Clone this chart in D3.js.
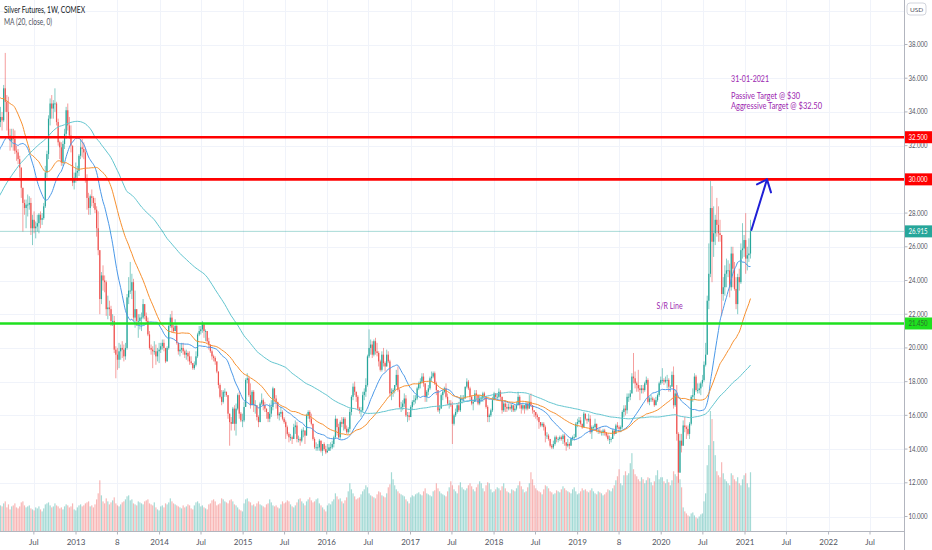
<!DOCTYPE html>
<html>
<head>
<meta charset="utf-8">
<title>Silver Futures, 1W, COMEX</title>
<script src="https://d3js.org/d3.v7.min.js"></script>
<style>
  body { margin: 0; background: #fff; }
  text { font-family: "Lato", "Liberation Sans", sans-serif; }
</style>
</head>
<body>
<div id="chart"></div>
<script>
// weekly closes before the visible window, from 2010-03-01 (only used for the moving averages)
var histCloses = [
  16.8,17.0,16.9,17.3,17.9, 18.0,18.2,18.1,18.6, 18.3,19.1,17.9,18.2,18.0, 18.3,18.8,18.3,17.6, 18.0,17.6,18.2,17.7, 18.2,18.1,18.5,19.2,19.9, 20.0,20.8,21.7,22.2, 22.8,24.3,23.6,24.6, 26.7,25.8,26.5,26.9,28.6, 29.1,28.8,29.8,30.9,
  28.9,28.8,27.5,27.8,29.3, 29.8,32.4,33.1,35.3, 35.6,35.2,37.3,37.7, 39.8,42.7,46.4,47.4, 36.5,35.3,34.8,38.3,36.2, 35.8,35.3,35.1,34.5, 36.6,39.2,39.3,40.1, 38.5,39.3,42.9,41.5,42.0, 41.2,39.9,30.1,30.3, 31.3,31.5,31.2,35.0,33.9, 34.8,33.9,32.0,33.0, 32.1,29.3,28.9,28.2,
  29.4,29.9,32.0,33.6,33.4
];

// visible weekly bars, first week 2012-02-06 (open = previous close)
var closes = [
  33.7,33.5,35.4,34.6, 34.0,32.6,32.3,32.5, 32.4,31.7,31.6,31.2,30.7, 29.5,28.6,28.3,28.5, 28.5,28.6,27.1,27.6, 27.1,27.2,27.4,27.9,27.6, 27.7,28.4,30.4,31.5, 33.6,34.5,34.2,34.5, 34.5,33.4,32.2,31.9,31.0, 32.1,32.7,34.1,33.2, 32.6,32.0,29.8,30.1,30.4,
  30.5,31.4,31.9,31.8, 31.6,30.0,28.9,28.3, 29.0,28.9,28.6,28.2, 27.1,25.8,22.9,24.3,24.0, 23.9,22.3,22.4,22.3, 21.6,21.6,19.9,19.6, 19.3,19.8,20.0,19.9,19.5, 20.0,23.0,23.4,23.4, 23.9,21.8,22.3,21.6,21.6, 21.8,21.8,22.6,21.9, 21.6,20.8,20.0,19.9, 19.8,19.8,19.5,19.8,19.9,
  20.1,20.3,20.0,19.2, 20.0,21.3,21.8,21.2, 21.0,21.3,20.3,19.8,19.9, 20.0,19.8,19.6,19.7, 19.5,19.2,19.1,18.8, 19.0,19.5,20.8,21.0,21.1, 21.4,21.0,21.0,20.4, 20.2,19.8,19.5,19.4, 19.2,18.6,17.8,17.1,16.8, 17.4,17.4,17.2,16.1, 15.6,15.5,16.4,15.5, 16.4,17.2,16.1,15.7,15.7,
  16.5,18.1,18.2,17.2, 16.6,17.4,16.6,16.6, 15.9,15.6,16.7,16.9,16.6, 16.4,16.2,15.8,16.1, 16.5,17.6,17.0,16.8, 16.0,16.1,16.2,15.8,15.6, 15.3,14.9,14.7,14.7, 14.6,15.3,15.4,14.6,14.6, 14.5,15.1,15.1,14.8, 16.0,16.2,15.8,15.5, 14.6,14.1,14.1,14.1,14.5, 13.9,14.3,14.0,13.8,
  13.9,14.1,14.1,14.3, 14.7,15.8,15.3,14.7,15.6, 15.5,15.8,15.2,15.0, 15.2,16.2,17.1,17.7, 17.4,17.1,16.4,16.3,16.3, 17.2,17.4,17.8,19.5, 20.0,20.2,19.6,20.4, 19.8,19.7,19.2,18.7,19.6, 19.1,18.9,19.6,19.2, 17.3,17.4,17.5,17.8,18.4, 17.5,16.5,16.5,16.7, 17.0,16.0,16.0,15.9,
  16.5,16.8,16.9,17.0,17.6, 17.9,18.0,18.3,17.9, 17.1,17.4,17.6,18.2, 18.3,18.5,17.9,17.5, 16.3,16.4,17.2,17.4,17.6, 17.1,16.7,16.7,16.6, 15.5,16.0,16.2,16.6,16.3, 17.0,17.0,17.0,17.7, 18.0,17.6,17.1,16.7, 16.8,17.3,17.2,16.7,17.0, 17.0,17.3,17.1,16.5, 15.9,16.0,16.3,16.9,
  17.3,17.1,17.1,17.4,17.1, 16.3,16.7,16.5,16.4, 16.5,16.4,16.6,16.3, 16.4,16.6,17.1,16.6,16.4, 16.6,16.4,16.7,16.4, 16.8,16.6,16.3,16.2, 16.0,15.9,15.6,15.4,15.5, 15.3,14.8,14.8,14.6, 14.2,14.1,14.3,14.7, 14.6,14.6,14.7,14.6,14.8, 14.4,14.2,14.3,14.2, 14.6,14.7,14.7,15.5,15.6,
  15.7,15.5,15.3,16.1, 15.8,15.7,15.8,15.0, 15.3,15.3,15.5,15.1, 15.1,15.0,15.0,15.1,15.0, 14.8,14.6,14.6,14.6, 15.1,14.9,15.4,15.3, 15.2,15.3,16.2,16.4,16.3, 17.1,17.1,17.3,18.3, 18.2,17.9,17.8,17.6,17.5, 17.6,17.5,17.9,18.1, 16.8,17.0,17.0,16.9, 16.6,16.9,17.2,17.9,18.1,
  18.1,18.0,18.1,18.1, 17.7,17.7,18.4,16.6, 17.3,14.9,12.6,14.5,14.2, 15.4,15.3,15.2,14.9, 15.5,17.1,17.2,18.3, 17.5,17.5,17.6,17.9,18.1, 19.0,19.6,22.8,24.4, 28.3,26.3,26.8,27.6,27.3, 26.8,26.7,23.2,23.6, 24.4,24.6,24.6,23.6, 25.6,24.7,23.5,22.6,24.2, 23.9,25.8,25.9,26.4,
  25.3,25.5,25.6,26.915
];
var highs = [
  34.3,34.0,35.6,37.5, 35.0,34.9,33.0,33.0, 33.0,32.9,32.0,31.8,31.4, 30.3,29.4,28.8,28.8, 29.1,29.0,28.9,27.9, 28.1,27.5,27.9,28.0,28.1, 28.0,28.6,30.8,31.7, 33.8,34.8,35.0,34.7, 35.4,34.6,33.6,32.3,32.2, 32.3,33.0,34.3,34.5, 33.7,33.2,32.0,30.4,31.0,
  30.8,31.5,32.4,32.4, 32.2,31.8,30.3,29.2, 29.1,29.4,29.0,28.9, 28.4,28.1,25.6,24.5,24.9, 24.3,24.0,23.1,22.8, 22.5,22.0,21.9,20.1, 20.0,20.3,20.2,20.4,20.2, 20.3,23.2,24.2,25.1, 24.4,24.1,23.4,22.3,22.0, 22.0,22.1,22.9,22.6, 22.1,21.8,21.0,20.2, 20.1,20.4,20.2,20.0,20.3,
  20.3,20.5,20.5,19.9, 20.1,21.4,22.0,22.2, 21.4,21.7,21.4,20.3,20.2, 20.3,20.3,19.9,19.9, 19.8,19.8,19.5,19.1, 19.2,19.8,20.9,21.3,21.3, 21.6,21.5,21.1,20.9, 20.6,20.2,19.9,19.6, 19.5,19.2,18.6,17.9,17.5, 17.5,17.6,17.4,17.2, 16.1,15.9,16.5,16.6, 16.7,17.3,17.4,16.2,16.1,
  16.8,18.2,18.5,18.3, 17.9,17.5,17.5,16.9, 16.6,16.0,16.8,17.3,17.0, 16.8,16.4,16.2,16.7, 16.9,17.7,17.6,17.2, 16.8,16.2,16.5,16.3,15.9, 15.7,15.4,15.0,14.9, 14.8,15.5,15.7,15.6,14.8, 14.7,15.2,15.3,15.0, 16.1,16.3,16.3,16.1, 15.5,14.7,14.4,14.3,14.6, 14.4,14.3,14.4,14.2,
  14.3,14.3,14.4,14.5, 14.8,16.0,15.8,15.5,15.7, 15.9,15.9,15.9,15.4, 15.3,16.4,17.2,17.9, 18.0,17.4,17.2,16.5,16.5, 17.4,17.6,18.2,19.6, 21.1,20.5,20.4,20.5, 20.6,20.3,19.8,19.3,19.8, 20.0,19.2,19.9,19.8, 19.3,17.6,17.6,17.8,18.7, 18.9,17.6,16.8,16.9, 17.3,17.2,16.2,16.2,
  16.6,16.9,17.2,17.2,17.7, 18.0,18.2,18.5,18.5, 17.9,17.5,17.8,18.3, 18.6,18.6,18.6,18.0, 17.5,16.6,17.3,17.5,17.7, 17.9,17.3,16.9,16.9, 16.8,16.1,16.4,16.7,16.8, 17.2,17.2,17.2,17.7, 18.2,18.1,17.7,17.2, 16.9,17.5,17.5,17.1,17.2, 17.2,17.4,17.4,17.1, 16.6,16.1,16.4,17.1,
  17.4,17.3,17.3,17.6,17.5, 17.1,16.8,16.9,16.7, 16.7,16.7,16.7,16.6, 16.6,16.8,17.4,17.2,16.7, 16.7,16.6,16.8,16.8, 17.2,17.3,16.6,16.3, 16.2,16.1,15.9,15.6,15.6, 15.6,15.4,15.0,14.9, 14.6,14.3,14.5,14.8, 14.8,14.7,14.8,14.8,14.9, 14.9,14.4,14.6,14.4, 14.7,14.8,14.9,15.6,15.8,
  15.9,15.9,15.5,16.2, 16.1,15.8,16.1,16.0, 15.4,15.4,15.8,15.5, 15.2,15.3,15.1,15.2,15.2, 15.0,14.9,14.8,14.7, 15.2,15.1,15.5,15.6, 15.4,15.4,16.3,16.6,16.6, 17.3,17.3,17.5,18.5, 19.7,18.6,18.0,18.7,17.8, 17.8,17.8,18.0,18.3, 18.2,17.1,17.2,17.1, 17.0,17.1,17.3,18.0,18.3,
  18.8,18.2,18.3,18.4, 18.2,17.8,18.6,18.9, 17.5,17.8,15.0,14.9,14.9, 15.7,15.9,15.4,15.4, 15.6,17.2,17.6,18.5, 18.4,17.9,17.9,18.0,18.4, 19.2,20.3,23.1,26.2, 29.9,29.6,28.4,27.9,28.9, 28.4,27.6,26.6,24.2, 24.9,25.3,25.2,25.0, 26.0,26.0,25.1,24.2,24.4, 24.7,26.2,27.4,26.7,
  28.0,26.0,26.5,27.6
];
var lows = [
  33.1,32.9,33.4,34.0, 32.9,32.4,31.7,31.9, 31.7,31.5,31.1,30.9,30.1, 28.9,26.9,27.9,27.1, 27.8,28.2,26.7,26.1, 26.8,26.5,26.9,26.8,27.1, 27.3,27.6,28.3,30.1, 31.2,33.2,33.6,33.6, 34.0,33.2,32.0,31.2,30.8, 30.8,31.8,32.4,32.9, 32.4,31.6,29.6,29.4,29.8,
  29.9,30.2,31.2,31.3, 31.2,29.8,28.2,27.9, 27.9,28.4,28.3,28.0, 26.6,25.5,22.0,22.6,23.4, 23.3,21.9,21.7,21.9, 21.3,21.3,19.7,18.2, 18.7,18.8,19.3,19.4,19.2, 19.3,19.9,22.6,23.2, 22.9,21.6,21.2,21.3,20.6, 21.1,21.0,21.7,21.7, 21.4,20.7,19.9,19.6, 18.8,19.6,19.0,19.2,19.1,
  19.7,19.9,19.8,19.1, 19.2,19.9,21.2,20.9, 20.9,21.0,20.2,19.6,19.5, 19.7,19.6,19.4,19.3, 19.2,19.0,19.0,18.7, 18.7,18.9,19.4,20.7,20.8, 20.9,20.6,20.4,20.3, 19.9,19.7,19.3,19.2, 19.0,18.5,17.6,17.0,16.6, 16.7,17.1,17.1,15.8, 14.2,15.1,15.5,15.1, 14.8,16.3,15.8,15.6,15.3,
  15.6,16.5,17.9,17.1, 16.4,16.6,16.2,16.1, 15.7,15.3,15.6,16.6,16.3, 16.2,15.8,15.6,15.6, 15.9,16.3,16.8,16.4, 15.8,15.7,15.9,15.7,15.5, 14.6,14.8,14.4,14.5, 14.3,14.6,14.9,14.4,14.4, 14.2,14.4,14.7,14.3, 14.9,15.8,15.6,15.4, 14.5,14.0,13.9,13.9,13.9, 13.8,13.6,13.9,13.7,
  13.8,13.9,13.9,14.0, 14.1,14.6,14.8,14.6,14.6, 15.3,15.1,15.1,14.9, 14.9,15.0,16.0,16.9, 17.2,16.8,16.3,16.1,15.9, 16.2,16.9,17.1,17.7, 19.4,19.6,19.4,19.5, 19.6,19.5,18.9,18.6,18.6, 18.9,18.6,18.9,19.1, 17.1,16.9,17.1,17.3,17.7, 17.4,16.4,16.2,16.3, 16.5,15.9,15.6,15.7,
  15.9,16.3,16.6,16.7,16.9, 17.5,17.6,17.9,17.7, 16.8,16.8,17.2,17.5, 18.0,18.2,17.8,17.2, 16.2,16.1,16.4,16.9,17.3, 17.0,16.6,16.4,16.5, 14.3,15.4,15.9,16.1,16.2, 16.2,16.7,16.8,17.0, 17.6,17.5,16.9,16.6, 16.3,16.8,16.9,16.6,16.6, 16.8,16.8,16.9,16.4, 15.6,15.6,15.9,16.2,
  16.9,16.9,16.9,17.0,16.9, 16.1,16.2,16.2,16.2, 16.3,16.3,16.2,16.2, 16.2,16.3,16.6,16.4,16.1, 16.3,16.1,16.3,16.3, 16.4,16.5,16.1,15.9, 15.8,15.7,15.2,15.3,15.3, 15.1,14.4,14.6,14.5, 14.1,14.0,14.0,14.2, 14.4,14.4,14.5,14.5,14.3, 14.2,13.9,14.1,14.0, 14.2,14.5,14.5,14.7,15.3,
  15.5,15.4,15.2,15.3, 15.7,15.5,15.6,14.9, 14.6,15.1,15.2,15.0, 14.9,14.9,14.8,14.8,14.8, 14.7,14.5,14.3,14.4, 14.6,14.8,14.9,15.2, 15.0,15.0,15.2,15.9,16.0, 16.1,16.8,16.9,17.3, 17.9,17.6,17.4,17.4,16.9, 17.3,17.3,17.4,17.8, 16.7,16.6,16.8,16.8, 16.5,16.6,16.8,17.1,17.8,
  17.9,17.8,17.9,17.6, 17.4,17.4,17.7,16.4, 16.5,14.5,12.0,12.6,13.8, 14.2,15.0,14.6,14.8, 14.6,15.4,16.8,16.9, 17.4,17.3,17.3,17.2,17.7, 18.0,18.9,19.8,22.3, 24.2,23.9,25.4,26.1,26.6, 26.3,26.3,21.9,22.8, 23.1,23.6,24.2,23.0, 23.4,23.6,23.4,22.3,22.0, 23.4,23.8,25.3,25.4,
  24.4,24.6,25.1,25.3
];
// weekly volume, thousand contracts
var volumes = [
  130,125,140,150,120,135,110,125,130,140,120,115,125,145,150,130,120,125,130,115,110,105,120,115,125,110,100,115,135,140,145,130,120,125,140,130,125,115,120,110,125,135,130,120,125,140,110,105,
  120,130,135,125,130,140,145,150,125,130,120,135,160,190,255,180,150,140,165,150,135,145,155,170,140,130,125,135,145,150,160,175,180,155,160,140,135,130,150,145,140,135,150,155,160,140,135,130,145,120,110,105,
  125,130,120,140,135,145,165,150,140,135,130,125,120,115,130,120,125,135,130,115,110,130,145,150,140,125,130,120,115,110,135,140,155,160,150,130,135,140,165,160,150,145,140,155,160,150,135,130,120,110,105,100,
  140,160,165,150,145,130,135,125,140,150,135,130,125,120,135,140,160,145,130,125,130,120,115,135,150,140,145,155,150,135,125,120,130,145,160,165,150,140,130,150,160,170,155,145,150,160,165,140,130,120,110,100,
  130,140,135,150,160,190,175,160,165,150,140,155,170,200,240,210,190,175,160,165,170,185,200,210,230,220,190,180,175,170,165,185,200,195,180,175,170,190,220,235,295,260,230,210,200,190,185,180,175,160,150,140,
  170,180,175,185,190,195,185,180,200,215,190,185,180,175,200,205,240,215,200,190,185,180,175,200,220,250,230,210,200,190,230,245,220,210,205,215,230,240,225,210,200,220,235,250,240,215,200,230,245,240,210,195,
  200,210,220,215,205,225,240,215,200,195,190,210,205,200,215,230,250,225,210,195,200,220,240,295,260,230,215,205,200,195,185,210,230,225,215,200,195,185,190,205,200,195,210,225,215,205,200,195,190,210,220,200,185,
  190,200,215,205,210,200,195,205,215,200,190,185,200,195,190,180,185,195,210,205,200,215,230,255,275,310,240,230,280,300,280,290,340,390,310,285,275,260,250,270,260,240,255,270,265,245,230,250,280,305,260,270,
  270,250,240,260,245,230,255,300,285,275,290,260,220,120,100,90,80,75,90,95,80,70,65,75,85,90,150,190,330,430,600,560,450,380,300,280,270,345,290,260,250,240,230,290,280,260,250,270,240,230,260,280,
  290,240,220,295
];

var histStartUtc = Date.UTC(2010, 2, 1);
var maPeriods = [20, 40, 100];
var priceTicks = d3.range(10, 40, 2);
var levelPrices = [32.5, 30.0];
var supportPrice = 21.45;
var timeTicks = ["2012-07-01","2013-01-01","2013-07-01","2014-01-01","2014-07-01","2015-01-01","2015-07-01",
  "2016-01-01","2016-07-01","2017-01-01","2017-07-01","2018-01-01","2018-07-01","2019-01-01","2019-07-01",
  "2020-01-01","2020-07-01","2021-01-01","2021-07-01","2022-01-01","2022-07-01"];
var timeLabels = ["Jul","2013","8","2014","Jul","2015","Jul","2016","Jul","2017","Jul","2018","Jul","2019","8",
  "2020","Jul","2021","Jul","2022","Jul"];
var noteLines = ["31-01-2021", "Passive Target @ $30", "Aggressive Target @ $32.50"];
var srText = "S/R Line";

var W = 932, H = 550, plotR = 904.5, plotB = 531.5;
var upC = "#26a69a", dnC = "#ef5350";

var svg = d3.select("#chart").append("svg").attr("width", W).attr("height", H)
  .style("background", "#fff");

var x = d3.scaleUtc().domain([Date.UTC(2013,0,1), Date.UTC(2021,0,1)]).range([76, 745]);
var y = d3.scaleLinear().domain([10, 38]).range([516.5, 44.5]);
var yv = d3.scaleLinear().domain([0, 600]).range([plotB, 411]);

function weekDate(i) { return new Date(histStartUtc + i * 7 * 864e5); }

var all = histCloses.concat(closes);
var h0 = histCloses.length;
var bars = closes.map(function(c, k) {
  var o = all[h0 + k - 1];
  return { date: weekDate(h0 + k), o: o, c: c,
           h: Math.max(highs[k], o, c), l: Math.min(lows[k], o, c), v: volumes[k] };
});

svg.append("defs").append("clipPath").attr("id", "plot")
  .append("rect").attr("x", 0).attr("y", 0).attr("width", plotR).attr("height", plotB);

// grid
svg.append("g").selectAll("line").data(d3.range(10, 42, 2)).join("line")
  .attr("x1", 0).attr("x2", plotR).attr("y1", function(d){ return Math.round(y(d)) + 0.5; })
  .attr("y2", function(d){ return Math.round(y(d)) + 0.5; })
  .attr("stroke", "#f0f3fa");
svg.append("g").selectAll("line").data(timeTicks).join("line")
  .attr("x1", function(d){ return Math.round(x(new Date(d))) + 0.5; })
  .attr("x2", function(d){ return Math.round(x(new Date(d))) + 0.5; })
  .attr("y1", 0).attr("y2", plotB).attr("stroke", "#f0f3fa");

var plot = svg.append("g").attr("clip-path", "url(#plot)");

// volume
plot.append("g").selectAll("rect").data(bars).join("rect")
  .attr("x", function(d){ return x(d.date) - 0.6; })
  .attr("width", 1.2)
  .attr("y", function(d){ return yv(d.v); })
  .attr("height", function(d){ return plotB - yv(d.v); })
  .attr("fill", function(d){ return d.c >= d.o ? upC : dnC; })
  .attr("opacity", 0.42);

// candles
var cg = plot.append("g");
cg.selectAll("line").data(bars).join("line")
  .attr("x1", function(d){ return x(d.date); }).attr("x2", function(d){ return x(d.date); })
  .attr("y1", function(d){ return y(d.h); }).attr("y2", function(d){ return y(d.l); })
  .attr("stroke", function(d){ return d.c >= d.o ? upC : dnC; })
  .attr("stroke-width", 0.8).attr("opacity", 0.7);
cg.selectAll("rect").data(bars).join("rect")
  .attr("x", function(d){ return x(d.date) - 0.6; })
  .attr("width", 1.2)
  .attr("y", function(d){ return y(Math.max(d.o, d.c)); })
  .attr("height", function(d){ return Math.max(0.8, Math.abs(y(d.o) - y(d.c))); })
  .attr("fill", function(d){ return d.c >= d.o ? upC : dnC; });

// moving averages
var maColors = ["#4a98e8", "#f7902f", "#62c5cf"];
maPeriods.forEach(function(p, j) {
  var pts = [];
  for (var i = Math.max(p - 1, h0 - 2); i < all.length; i++) {
    pts.push([weekDate(i), d3.mean(all.slice(i - p + 1, i + 1))]);
  }
  plot.append("path").datum(pts)
    .attr("d", d3.line().x(function(d){ return x(d[0]); }).y(function(d){ return y(d[1]); }).curve(d3.curveMonotoneX))
    .attr("fill", "none").attr("stroke", maColors[j]).attr("stroke-width", 1);
});

// last price line
var lastPrice = closes[closes.length - 1];
svg.append("line").attr("x1", 0).attr("x2", plotR)
  .attr("y1", y(lastPrice)).attr("y2", y(lastPrice))
  .attr("stroke", upC).attr("stroke-opacity", 0.4).attr("stroke-width", 1);

// resistance / support lines
levelPrices.forEach(function(p) {
  svg.append("line").attr("x1", 0).attr("x2", plotR).attr("y1", y(p)).attr("y2", y(p))
    .attr("stroke", "#ff0000").attr("stroke-width", 2.6);
});
svg.append("line").attr("x1", 0).attr("x2", plotR).attr("y1", y(supportPrice)).attr("y2", y(supportPrice))
  .attr("stroke", "#1fe01f").attr("stroke-width", 2.6);

// target arrow
var a0 = [x(new Date("2021-01-29")), y(27.0)], a1 = [x(new Date("2021-04-07")), y(30.0)];
svg.append("line").attr("x1", a0[0]).attr("y1", a0[1]).attr("x2", a1[0]).attr("y2", a1[1])
  .attr("stroke", "#1f1fd6").attr("stroke-width", 2).attr("stroke-linecap", "round");
svg.append("polyline")
  .attr("points", [[a1[0] - 10, a1[1] + 5], a1, [a1[0] + 4, a1[1] + 13]].map(function(p){ return p.join(","); }).join(" "))
  .attr("fill", "none").attr("stroke", "#1f1fd6").attr("stroke-width", 2)
  .attr("stroke-linecap", "round").attr("stroke-linejoin", "round");

// notes
var noteX = x(new Date("2020-11-01"));
var noteWidths = [38, 69, 91];
[y(35.8), y(34.75), y(34.15)].forEach(function(yy, i) {
  svg.append("text").attr("x", noteX).attr("y", yy).text(noteLines[i])
    .attr("font-size", 9).attr("fill", "#9c27b0")
    .attr("textLength", noteWidths[i]).attr("lengthAdjust", "spacingAndGlyphs");
});
svg.append("text").attr("x", x(new Date("2019-12-12"))).attr("y", y(22.3)).text(srText)
  .attr("font-size", 9).attr("fill", "#9c27b0")
  .attr("textLength", 26).attr("lengthAdjust", "spacingAndGlyphs");

// axes
svg.append("line").attr("x1", plotR).attr("x2", plotR).attr("y1", 0).attr("y2", H).attr("stroke", "#b2b5be");
svg.append("line").attr("x1", 0).attr("x2", plotR).attr("y1", plotB).attr("y2", plotB).attr("stroke", "#b2b5be");

var ya = svg.append("g");
ya.selectAll("line").data(priceTicks).join("line")
  .attr("x1", plotR).attr("x2", plotR + 3).attr("y1", function(d){ return y(d); }).attr("y2", function(d){ return y(d); })
  .attr("stroke", "#b2b5be");
ya.selectAll("text").data(priceTicks).join("text")
  .attr("x", 908.5).attr("y", function(d){ return y(d) + 2.5; })
  .text(d3.format(".3f")).attr("font-size", 7).attr("fill", "#50535e")
  .attr("textLength", 19).attr("lengthAdjust", "spacingAndGlyphs");

var xa = svg.append("g");
xa.selectAll("line").data(timeTicks).join("line")
  .attr("x1", function(d){ return x(new Date(d)); }).attr("x2", function(d){ return x(new Date(d)); })
  .attr("y1", plotB).attr("y2", plotB + 3).attr("stroke", "#b2b5be");
xa.selectAll("text").data(timeTicks).join("text")
  .attr("x", function(d){ return x(new Date(d)); }).attr("y", 545)
  .attr("text-anchor", "middle").attr("font-size", 8).attr("fill", "#50535e")
  .text(function(d, i){ return timeLabels[i]; });

// price labels on the axis
function axisLabel(p, bg, fg) {
  svg.append("rect").attr("x", plotR + 0.5).attr("y", y(p) - 6).attr("width", W - plotR).attr("height", 12).attr("fill", bg);
  svg.append("text").attr("x", 908.5).attr("y", y(p) + 2.5).text(d3.format(".3f")(p))
    .attr("font-size", 7).attr("fill", fg)
    .attr("textLength", 19).attr("lengthAdjust", "spacingAndGlyphs");
}
levelPrices.forEach(function(p){ axisLabel(p, "#ff0000", "#ffffff"); });
axisLabel(lastPrice, upC, "#ffffff");
axisLabel(supportPrice, "#1fe01f", "#2e6b2e");

// currency badge
svg.append("rect").attr("x", 907).attr("y", 3).attr("width", 19).attr("height", 12).attr("rx", 3)
  .attr("fill", "#fff").attr("stroke", "#d1d4dc");
svg.append("text").attr("x", 916.5).attr("y", 11.5).attr("text-anchor", "middle").text("USD")
  .attr("font-size", 6.5).attr("fill", "#50535e");

// legend
svg.append("text").attr("x", 4).attr("y", 13).text("Silver Futures, 1W, COMEX")
  .attr("font-size", 9).attr("fill", "#131722")
  .attr("textLength", 81).attr("lengthAdjust", "spacingAndGlyphs");
svg.append("text").attr("x", 4).attr("y", 25).text("MA (20, close, 0)")
  .attr("font-size", 9).attr("fill", "#50535e")
  .attr("textLength", 48).attr("lengthAdjust", "spacingAndGlyphs");
</script>
</body>
</html>
